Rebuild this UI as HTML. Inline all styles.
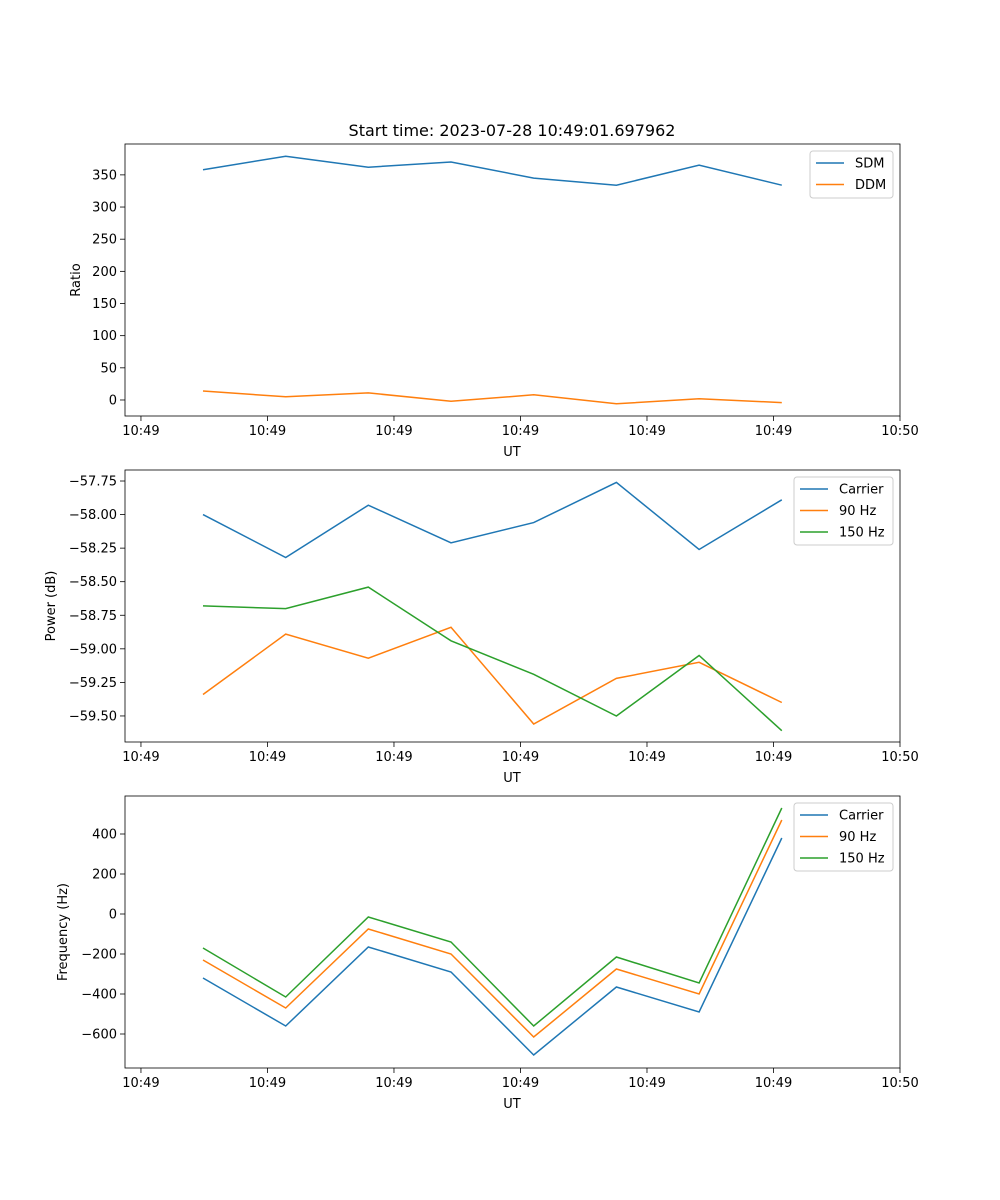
<!DOCTYPE html>
<html><head><meta charset="utf-8">
<style>
html,body{margin:0;padding:0;background:#fff;}
svg{display:block;font-family:"DejaVu Sans","Liberation Sans",sans-serif;}
</style></head>
<body>
<svg id="fig" width="1000" height="1200" viewBox="0 0 1000 1200" xmlns="http://www.w3.org/2000/svg">
<rect width="1000" height="1200" fill="#fff"/>
<text x="512" y="136" font-size="16" text-anchor="middle">Start time: 2023-07-28 10:49:01.697962</text>
</svg>
<script>
// shared x data (sample index) and tick positions in sample units
const sampleIdx = [0,1,2,3,4,5,6,7];
const xTickVals = [-0.75,0.78,2.31,3.84,5.37,6.9,8.43];
const xTickLabels = ["10:49","10:49","10:49","10:49","10:49","10:49","10:50"];
// panel 1
const ratioSDM = [358,379,362,370,345,334,365,334];
const ratioDDM = [14,5,11,-2,8,-6,2,-4];
const ratioTicks = [0,50,100,150,200,250,300,350];
// panel 2
const powCarrier = [-58.00,-58.32,-57.93,-58.21,-58.06,-57.76,-58.26,-57.89];
const pow90 = [-59.34,-58.89,-59.07,-58.84,-59.56,-59.22,-59.10,-59.40];
const pow150 = [-58.68,-58.70,-58.54,-58.94,-59.19,-59.50,-59.05,-59.61];
const powTicks = [-57.75,-58.00,-58.25,-58.50,-58.75,-59.00,-59.25,-59.50];
// panel 3
const freqCarrier = [-320,-560,-165,-290,-705,-365,-490,380];
const freq90 = [-230,-470,-75,-200,-615,-275,-400,470];
const freq150 = [-170,-415,-15,-140,-560,-215,-345,530];
const freqTicks = [-600,-400,-200,0,200,400];

const NS="http://www.w3.org/2000/svg";
const svg=document.getElementById('fig');
function el(t,a,p){const e=document.createElementNS(NS,t);for(const k in a)e.setAttribute(k,a[k]);(p||svg).appendChild(e);return e;}
const L=125,R=900,xmin=-0.943,xmax=8.43;
function xs(v){return L+(v-xmin)/(xmax-xmin)*(R-L);}

function panel(name,top,bot,ymin,ymax,yticks,fmt,ylabel,series,legend){
  const g=el('g',{});
  
  
  const ys=v=>bot-(v-ymin)/(ymax-ymin)*(bot-top);
  series.forEach(s=>{
    const pts=sampleIdx.map((i,k)=>xs(i).toFixed(1)+','+ys(s.d[k]).toFixed(1)).join(' ');
    const pl=el('polyline',{points:pts,fill:'none',stroke:s.c,'stroke-width':1.5},g);
    
    
  });
  const fr=el('rect',{x:L,y:top,width:R-L,height:bot-top,fill:'none',stroke:'#000','stroke-width':0.8},g);
  
  
  xTickVals.forEach((v,k)=>{
    const x=xs(v);
    el('line',{x1:x,x2:x,y1:bot,y2:bot+5,stroke:'#000','stroke-width':0.8},g);
    const t=el('text',{x:x,y:bot+19,'font-size':13,'text-anchor':'middle'},g);
    t.textContent=xTickLabels[k];
    
    
  });
  const xl=el('text',{x:512,y:bot+40,'font-size':13,'text-anchor':'middle'},g);
  xl.textContent='UT';
  
  
  yticks.forEach(v=>{
    const y=ys(v);
    el('line',{x1:L-5,x2:L,y1:y,y2:y,stroke:'#000','stroke-width':0.8},g);
    const t=el('text',{x:L-8,y:y+4.5,'font-size':13,'text-anchor':'end'},g);
    t.textContent=fmt(v);
    
    
  });
  const yx=legend.ylx, yy=(top+bot)/2;
  const yl=el('text',{x:yx,y:yy,'font-size':13,'text-anchor':'middle',transform:`rotate(-90 ${yx} ${yy})`},g);
  yl.textContent=ylabel;
  
  
  const lg=el('g',{},g);
  
  
  const lh=21*series.length+5;
  el('rect',{x:legend.x,y:top+7,width:R-7-legend.x,height:lh,fill:'#fff',stroke:'#ccc',rx:3},lg);
  series.forEach((s,k)=>{
    const y=top+19+k*21.5;
    el('line',{x1:legend.x+6,x2:legend.x+34,y1:y,y2:y,stroke:s.c,'stroke-width':1.5},lg);
    const t=el('text',{x:legend.x+45,y:y+4.5,'font-size':13},lg);
    t.textContent=s.n;
    
    
  });
}
const B='#1f77b4',O='#ff7f0e',G='#2ca02c';
panel('ratio-panel',144,416,-24.9,398,ratioTicks,v=>String(v),'Ratio',
  [{n:'SDM',d:ratioSDM,c:B},{n:'DDM',d:ratioDDM,c:O}],{x:810,ylx:80});
panel('power-panel',470,742,-59.694,-57.668,powTicks,v=>'\u2212'+Math.abs(v).toFixed(2),'Power (dB)',
  [{n:'Carrier',d:powCarrier,c:B},{n:'90 Hz',d:pow90,c:O},{n:'150 Hz',d:pow150,c:G}],{x:794,ylx:55});
panel('frequency-panel',796,1068,-770,590,freqTicks,v=>v<0?'\u2212'+Math.abs(v):String(v),'Frequency (Hz)',
  [{n:'Carrier',d:freqCarrier,c:B},{n:'90 Hz',d:freq90,c:O},{n:'150 Hz',d:freq150,c:G}],{x:794,ylx:67});
</script>
</body></html>
